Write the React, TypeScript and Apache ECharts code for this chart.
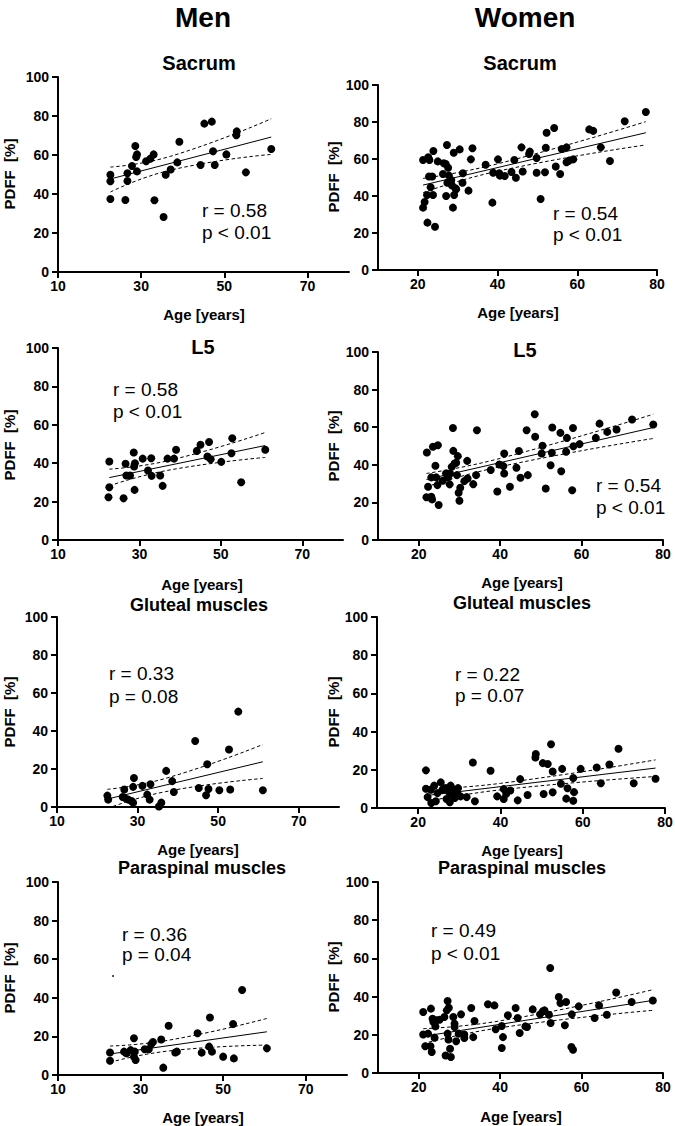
import React, { useEffect, useRef } from "react";
import * as echarts from "echarts";

const FONT = "'Liberation Sans', Arial, Helvetica, sans-serif";

// ---------- Data (age [years], PDFF [%]) ----------
const menSacrum = [
  [22.6, 49.9], [22.6, 46.5], [22.6, 37.4], [26.2, 36.9], [26.7, 50.6], [26.7, 46.7], [27.8, 54.4],
  [28.6, 64.6], [28.8, 59.0], [29.0, 60.3], [29.0, 51.6], [31.2, 56.8], [32.2, 58.1], [33.0, 60.3],
  [33.2, 36.8], [35.4, 28.2], [35.9, 49.9], [37.1, 52.6], [38.7, 56.2], [39.2, 66.8], [44.3, 54.9],
  [45.2, 76.1], [47.0, 77.1], [47.3, 61.9], [47.7, 54.9], [50.5, 60.3], [53.0, 72.1], [52.9, 70.1],
  [55.2, 51.1], [61.3, 63.1],
];
const menSacrumFit = [[22.6, 47.7], [61.3, 69.2]];
const menSacrumUpper = [[22.6, 53.8], [37.0, 59.3], [61.3, 78.6]];
const menSacrumLower = [[22.6, 41.0], [37.0, 52.2], [61.3, 60.3]];

const womenSacrum = [
  [21.3, 59.5], [21.3, 33.7], [21.7, 36.8], [22.6, 60.9], [22.3, 40.5], [22.4, 25.6], [22.8, 50.5],
  [22.9, 59.5], [23.2, 44.7], [23.6, 50.5], [23.8, 40.5], [23.9, 64.3], [24.3, 23.4], [25.0, 58.7],
  [26.3, 51.9], [26.5, 57.7], [27.0, 57.3], [27.3, 67.6], [27.1, 40.0], [27.4, 47.2], [27.6, 55.3],
  [27.8, 51.0], [28.0, 47.7], [28.4, 48.6], [28.6, 45.6], [28.8, 33.7], [29.0, 63.4], [29.5, 44.1],
  [29.1, 40.5], [29.6, 43.6], [30.5, 65.2], [31.2, 47.2], [31.3, 52.3], [32.7, 42.9], [33.3, 59.8],
  [33.7, 65.8], [37.0, 56.9], [38.7, 36.4], [38.9, 52.6], [40.1, 59.8], [40.4, 52.3], [40.6, 51.0],
  [41.8, 50.8], [43.5, 53.0], [44.2, 59.5], [44.6, 49.9], [46.0, 66.3], [46.3, 53.2], [47.9, 62.7],
  [48.1, 64.0], [49.8, 60.5], [49.8, 52.6], [50.8, 38.4], [51.9, 52.8], [52.3, 74.2], [52.1, 66.1],
  [54.2, 76.8], [54.6, 55.9], [55.7, 51.9], [56.1, 65.4], [57.3, 66.3], [57.3, 58.2], [57.9, 59.1],
  [59.0, 59.8], [63.0, 76.0], [64.0, 75.2], [65.9, 66.3], [68.2, 58.9], [71.9, 80.4], [77.2, 85.4],
];
const womenSacrumFit = [[21.3, 45.9], [77.2, 74.2]];
const womenSacrumUpper = [[21.3, 49.5], [40.0, 57.4], [77.2, 80.2]];
const womenSacrumLower = [[21.3, 41.8], [40.0, 53.4], [77.2, 67.6]];

const menL5 = [
  [22.6, 40.9], [22.6, 27.5], [22.4, 22.3], [26.1, 21.7], [26.6, 39.7], [26.8, 33.6], [27.7, 33.6],
  [28.6, 45.6], [28.7, 38.3], [28.9, 40.0], [28.8, 26.1], [30.8, 42.4], [32.1, 36.2], [32.9, 42.6],
  [33.0, 33.4], [35.1, 33.6], [35.7, 28.2], [36.9, 42.4], [38.5, 42.4], [39.0, 47.0], [44.1, 46.4],
  [45.0, 49.6], [47.1, 51.0], [46.7, 43.5], [47.5, 42.1], [50.1, 40.7], [52.8, 53.0], [52.6, 45.2],
  [55.0, 30.1], [60.9, 47.0],
];
const menL5Fit = [[22.6, 32.5], [60.9, 49.2]];
const menL5Upper = [[22.6, 36.9], [37.0, 41.3], [60.9, 56.0]];
const menL5Lower = [[22.6, 28.2], [37.0, 36.3], [60.9, 43.0]];

const womenL5 = [
  [22.0, 46.5], [22.3, 28.3], [21.9, 22.7], [23.1, 33.3], [23.1, 23.0], [23.3, 21.6], [23.5, 49.6],
  [24.1, 39.5], [24.3, 33.3], [24.6, 29.2], [24.7, 50.4], [24.9, 18.6], [25.9, 31.5], [26.7, 35.4],
  [27.2, 33.3], [27.6, 29.6], [27.7, 35.4], [28.1, 38.9], [28.4, 59.6], [28.5, 47.4], [28.8, 40.7],
  [29.2, 41.1], [29.4, 34.5], [29.6, 44.6], [29.8, 25.1], [30.0, 20.9], [30.2, 27.8], [31.2, 31.3],
  [31.9, 42.1], [32.0, 32.7], [33.4, 29.7], [34.1, 34.5], [34.3, 58.4], [37.7, 37.2], [39.3, 25.8],
  [39.8, 40.2], [40.8, 39.3], [41.0, 46.0], [41.0, 35.4], [42.4, 28.3], [44.0, 38.4], [44.6, 47.3],
  [45.0, 33.1], [46.5, 58.4], [46.8, 34.5], [48.5, 66.9], [48.6, 54.9], [50.4, 50.1], [50.2, 46.0],
  [51.2, 27.4], [52.4, 39.8], [52.7, 46.4], [52.8, 59.8], [54.8, 57.0], [55.0, 36.6], [56.2, 46.9],
  [56.4, 54.3], [57.7, 26.5], [57.9, 59.6], [58.0, 49.9], [59.5, 51.0], [63.5, 54.3], [64.4, 61.9],
  [66.3, 57.5], [68.6, 58.8], [72.4, 64.1], [77.6, 61.4],
];
const womenL5Fit = [[21.9, 32.2], [77.6, 59.8]];
const womenL5Upper = [[21.9, 35.4], [40.0, 43.4], [77.6, 66.9]];
const womenL5Lower = [[21.9, 28.3], [40.0, 39.0], [77.6, 54.0]];

const menGluteal = [
  [22.5, 6.0], [22.7, 3.9], [26.7, 9.2], [26.3, 5.3], [26.8, 4.8], [27.7, 3.9], [28.5, 3.2],
  [28.9, 2.3], [28.9, 10.6], [29.1, 15.3], [31.2, 11.1], [32.4, 6.5], [33.2, 12.0], [33.0, 3.9],
  [35.3, 0.3], [35.9, 2.3], [37.1, 19.0], [38.6, 13.6], [39.0, 7.9], [44.3, 34.7], [45.2, 10.0],
  [47.0, 6.2], [47.3, 22.5], [47.6, 9.5], [50.3, 8.8], [52.7, 30.3], [53.0, 9.2], [55.0, 50.2],
  [61.1, 8.8],
];
const menGlutealFit = [[22.5, 4.2], [61.1, 23.8]];
const menGlutealUpper = [[22.5, 9.3], [37.0, 15.1], [61.1, 32.9]];
const menGlutealLower = [[22.5, -0.8], [37.0, 8.1], [61.1, 15.0]];

const womenGluteal = [
  [21.9, 19.7], [21.9, 10.1], [22.3, 5.7], [23.1, 9.6], [23.2, 2.6], [23.9, 11.7], [24.3, 3.5],
  [24.7, 7.8], [25.5, 13.4], [25.9, 9.6], [26.7, 10.4], [26.9, 4.7], [27.5, 8.3], [27.7, 3.0],
  [27.9, 11.7], [28.1, 7.0], [28.7, 9.6], [28.9, 5.2], [29.5, 7.3], [29.7, 10.4], [30.3, 6.1],
  [31.8, 5.7], [33.3, 23.8], [33.8, 3.5], [37.6, 19.5], [39.2, 6.1], [40.8, 9.9], [40.8, 4.7],
  [41.4, 7.5], [42.4, 9.2], [44.2, 4.0], [44.8, 15.1], [46.6, 6.8], [48.6, 28.3], [48.5, 26.4],
  [50.3, 23.5], [50.5, 7.3], [51.5, 23.0], [52.3, 33.4], [52.7, 19.1], [52.7, 8.2], [55.0, 20.5],
  [54.7, 12.7], [56.3, 10.3], [56.0, 4.9], [57.7, 15.7], [57.9, 8.3], [57.7, 3.8], [59.5, 20.5],
  [63.4, 21.2], [64.4, 13.0], [66.5, 22.8], [68.7, 31.0], [72.4, 13.0], [77.7, 15.3],
];
const womenGlutealFit = [[21.9, 6.5], [77.7, 20.9]];
const womenGlutealUpper = [[22.3, 9.9], [40.0, 12.9], [77.7, 25.2]];
const womenGlutealLower = [[22.3, 3.5], [40.0, 9.5], [77.7, 16.5]];

const menParaspinal = [
  [22.6, 11.7], [22.6, 7.4], [26.0, 12.1], [26.6, 11.2], [27.6, 12.9], [28.4, 19.0], [28.6, 12.1],
  [28.4, 9.5], [28.8, 7.8], [31.0, 13.3], [32.0, 13.3], [32.6, 16.0], [33.0, 17.1], [35.0, 18.4],
  [35.5, 3.8], [36.8, 25.5], [38.4, 11.7], [38.8, 12.1], [43.8, 21.6], [44.8, 11.6], [46.8, 29.8],
  [46.6, 14.7], [47.3, 12.1], [50.0, 9.5], [52.4, 26.4], [52.6, 8.6], [54.6, 44.0], [60.6, 13.8],
];
const menParaspinalFit = [[22.6, 10.9], [60.6, 22.4]];
const menParaspinalUpper = [[22.6, 15.0], [37.0, 18.1], [60.6, 29.3]];
const menParaspinalLower = [[22.6, 6.6], [37.0, 12.5], [60.6, 15.5]];

const womenParaspinal = [
  [21.1, 31.9], [21.1, 20.2], [21.6, 14.0], [22.3, 20.6], [22.9, 14.0], [23.0, 33.7], [23.2, 11.0],
  [23.4, 28.4], [23.6, 26.7], [23.9, 18.5], [24.1, 24.4], [24.3, 27.6], [25.1, 27.9], [26.3, 29.3],
  [26.6, 9.2], [26.9, 32.8], [27.1, 37.7], [27.4, 34.2], [27.1, 20.6], [27.3, 17.5], [27.7, 12.7],
  [27.9, 8.4], [28.5, 29.3], [28.8, 25.8], [28.8, 24.1], [29.2, 16.6], [29.8, 20.6], [30.4, 30.7],
  [31.2, 20.2], [31.2, 18.3], [32.9, 34.0], [33.4, 18.8], [33.7, 27.2], [37.0, 36.0], [38.6, 35.4],
  [38.9, 22.9], [40.4, 24.6], [40.4, 13.1], [40.7, 18.8], [41.9, 30.2], [43.8, 34.0], [44.3, 28.8],
  [44.8, 20.9], [46.2, 24.4], [46.6, 24.1], [48.0, 33.3], [49.8, 30.7], [50.5, 32.3], [50.9, 32.8],
  [52.0, 30.5], [52.3, 55.0], [52.4, 26.2], [54.4, 39.8], [54.8, 36.6], [55.9, 25.0], [56.2, 37.2],
  [57.5, 13.6], [57.9, 12.2], [57.6, 30.7], [59.3, 34.9], [63.2, 28.8], [64.3, 35.4], [66.2, 30.5],
  [68.5, 42.1], [72.3, 37.2], [77.5, 38.0],
];
const womenParaspinalFit = [[21.1, 19.2], [77.5, 38.0]];
const womenParaspinalUpper = [[21.1, 23.2], [40.0, 27.3], [77.5, 43.6]];
const womenParaspinalLower = [[21.1, 15.4], [40.0, 23.7], [77.5, 32.8]];

// ---------- Labels ----------
const columnTitles = ["Men", "Women"];
const regionTitles = ["Sacrum", "L5", "Gluteal muscles", "Paraspinal muscles"];
const menStats = [["r = 0.58", "p < 0.01"], ["r = 0.58", "p < 0.01"], ["r = 0.33", "p = 0.08"], ["r = 0.36", "p = 0.04"]];
const womenStats = [["r = 0.54", "p < 0.01"], ["r = 0.54", "p < 0.01"], ["r = 0.22", "p = 0.07"], ["r = 0.49", "p < 0.01"]];
const menXTicks = [10, 30, 50, 70];
const womenXTicks = [20, 40, 60, 80];
const yName = "PDFF  [%]";
const xName = "Age [years]";

// ---------- Layout ----------
const panels = [
  { pts: menSacrum, fit: menSacrumFit, up: menSacrumUpper, lo: menSacrumLower, men: true, row: 0,
    grid: { left: 58, top: 77, width: 291, height: 195 }, title: [199, 63], xn: [204, 314], yn: [9, 174], stat: [202, 210, 232] },
  { pts: womenSacrum, fit: womenSacrumFit, up: womenSacrumUpper, lo: womenSacrumLower, men: false, row: 0,
    grid: { left: 378, top: 85, width: 279, height: 185 }, title: [520, 63], xn: [518, 312], yn: [333, 177], stat: [553, 213, 234] },
  { pts: menL5, fit: menL5Fit, up: menL5Upper, lo: menL5Lower, men: true, row: 1,
    grid: { left: 58, top: 348, width: 285, height: 192 }, title: [203, 347], xn: [202, 584], yn: [9, 445], stat: [113, 389, 411] },
  { pts: womenL5, fit: womenL5Fit, up: womenL5Upper, lo: womenL5Lower, men: false, row: 1,
    grid: { left: 378, top: 352, width: 285, height: 188 }, title: [525, 350], xn: [522, 582], yn: [333, 446], stat: [596, 485, 507] },
  { pts: menGluteal, fit: menGlutealFit, up: menGlutealUpper, lo: menGlutealLower, men: true, row: 2,
    grid: { left: 57, top: 617, width: 282, height: 190 }, title: [199, 605], xn: [198, 849], yn: [9, 712], stat: [109, 673, 696] },
  { pts: womenGluteal, fit: womenGlutealFit, up: womenGlutealUpper, lo: womenGlutealLower, men: false, row: 2,
    grid: { left: 377, top: 617, width: 288, height: 191 }, title: [522, 603], xn: [522, 850], yn: [333, 712], stat: [455, 674, 695] },
  { pts: menParaspinal, fit: menParaspinalFit, up: menParaspinalUpper, lo: menParaspinalLower, men: true, row: 3,
    grid: { left: 58, top: 882, width: 289, height: 193 }, title: [202, 868], xn: [203, 1117], yn: [9, 978], stat: [122, 934, 954] },
  { pts: womenParaspinal, fit: womenParaspinalFit, up: womenParaspinalUpper, lo: womenParaspinalLower, men: false, row: 3,
    grid: { left: 378, top: 882, width: 285, height: 191 }, title: [522, 868], xn: [521, 1116], yn: [333, 977], stat: [431, 930, 953] },
];

function txt(text: string, x: number, y: number, size: number, weight: string, align = "center", rotation = 0) {
  return {
    type: "text",
    x,
    y,
    rotation,
    z: 100,
    style: {
      text,
      fill: "#000",
      fontSize: size,
      fontWeight: weight,
      fontFamily: FONT,
      align,
      textAlign: align,
      verticalAlign: "middle",
      textVerticalAlign: "middle",
    },
  };
}

function buildOption() {
  const grid: any[] = [];
  const xAxis: any[] = [];
  const yAxis: any[] = [];
  const series: any[] = [];
  const graphic: any[] = [];

  graphic.push(txt(columnTitles[0], 203, 17, 28, "bold"));
  graphic.push(txt(columnTitles[1], 525, 17, 28, "bold"));

  panels.forEach((p, i) => {
    grid.push({ ...p.grid, containLabel: false, outerBoundsMode: "none" });
    const ticks = p.men ? menXTicks : womenXTicks;
    const axisLine = { show: true, onZero: false, lineStyle: { color: "#000", width: 2 } };
    xAxis.push({
      type: "value",
      gridIndex: i,
      min: 10,
      max: 80,
      axisLine,
      axisTick: { show: true, length: 6, customValues: ticks, lineStyle: { color: "#000", width: 2 } },
      axisLabel: { customValues: ticks, margin: 7, color: "#000", fontSize: 14, fontWeight: "bold", fontFamily: FONT },
      splitLine: { show: false },
    });
    yAxis.push({
      type: "value",
      gridIndex: i,
      min: 0,
      max: 100,
      interval: 20,
      axisLine,
      axisTick: { show: true, length: 6, lineStyle: { color: "#000", width: 2 } },
      axisLabel: { margin: 9, color: "#000", fontSize: 14, fontWeight: "bold", fontFamily: FONT },
      splitLine: { show: false },
    });
    series.push({
      type: "scatter",
      xAxisIndex: i,
      yAxisIndex: i,
      data: p.pts,
      symbol: "circle",
      symbolSize: 8,
      itemStyle: { color: "#000", opacity: 1 },
      z: 3,
    });
    series.push({
      type: "line",
      xAxisIndex: i,
      yAxisIndex: i,
      data: p.fit,
      showSymbol: false,
      lineStyle: { color: "#000", width: 1 },
      z: 4,
    });
    [p.up, p.lo].forEach((band) => {
      series.push({
        type: "line",
        xAxisIndex: i,
        yAxisIndex: i,
        data: band,
        smooth: 0.5,
        showSymbol: false,
        clip: true,
        lineStyle: { color: "#000", width: 1, type: [3.5, 2.5] },
        z: 4,
      });
    });
    const titleSize = p.row < 2 ? 20 : 18;
    graphic.push(txt(regionTitles[p.row], p.title[0], p.title[1], titleSize, "bold"));
    graphic.push(txt(xName, p.xn[0], p.xn[1], 15, "bold"));
    graphic.push(txt(yName, p.yn[0], p.yn[1], 15, "bold", "center", Math.PI / 2));
    const st = p.men ? menStats[p.row] : womenStats[p.row];
    graphic.push(txt(st[0], p.stat[0], p.stat[1], 19, "normal", "left"));
    graphic.push(txt(st[1], p.stat[0], p.stat[2], 19, "normal", "left"));
  });

  // small stray mark present in the original figure
  graphic.push({ type: "circle", shape: { cx: 113, cy: 976, r: 0.9 }, style: { fill: "#000" }, z: 100 });

  return {
    animation: false,
    backgroundColor: "#fff",
    grid,
    xAxis,
    yAxis,
    series,
    graphic,
  };
}

export default function App() {
  const ref = useRef<HTMLDivElement>(null);
  useEffect(() => {
    if (!ref.current) return;
    const chart = echarts.init(ref.current, undefined, { renderer: "svg" });
    chart.setOption(buildOption() as any);
    return () => chart.dispose();
  }, []);
  return (
    <div
      ref={ref}
      style={{ position: "absolute", left: 0, top: 0, width: 675, height: 1126, background: "#fff" }}
    />
  );
}
